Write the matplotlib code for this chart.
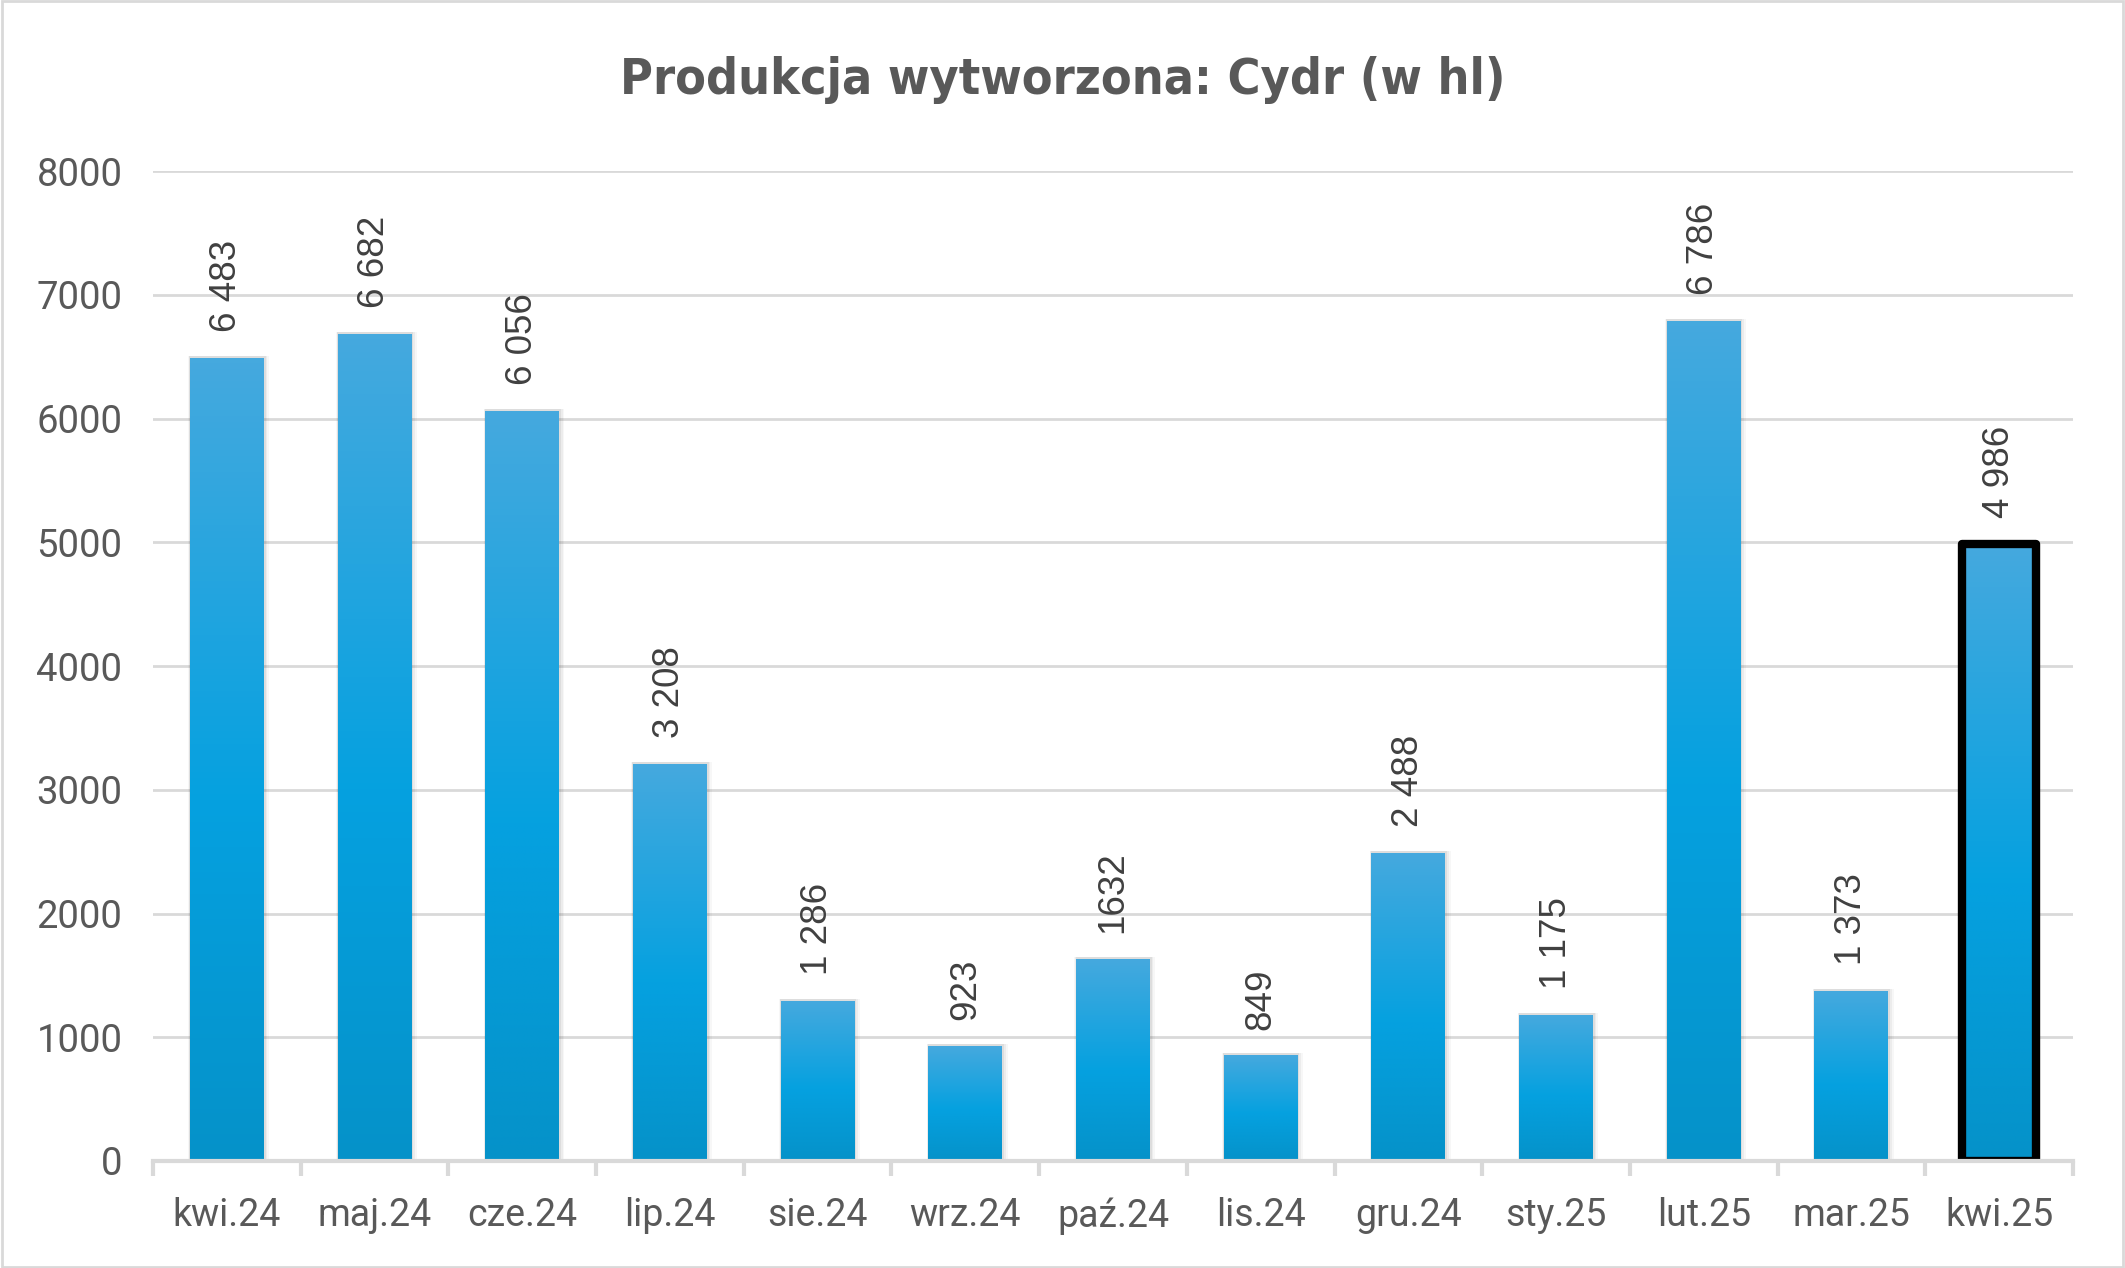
import matplotlib.pyplot as plt
import numpy as np
from matplotlib.colors import LinearSegmentedColormap
from matplotlib.patches import Rectangle
from matplotlib.transforms import ScaledTranslation

months = ["kwi.24", "maj.24", "cze.24", "lip.24", "sie.24", "wrz.24", "paź.24",
          "lis.24", "gru.24", "sty.25", "lut.25", "mar.25", "kwi.25"]
values = [6483, 6682, 6056, 3208, 1286, 923, 1632, 849, 2488, 1175, 6786, 1373, 4986]
value_labels = ["6 483", "6 682", "6 056", "3 208", "1 286", "923", "1632",
                "849", "2 488", "1 175", "6 786", "1 373", "4 986"]
yticks = [0, 1000, 2000, 3000, 4000, 5000, 6000, 7000, 8000]

grey_text = "#595959"
grid_col = "#D9D9D9"

fig = plt.figure(figsize=(21.25, 12.68), dpi=100)
ax = fig.add_axes([0.072, 0.0844, 0.9035, 0.7806])

# vertical gradient like the Excel fill
bar_cmap = LinearSegmentedColormap.from_list(
    "bar", [(0.0, "#0592C9"), (0.45, "#05A1E0"), (1.0, "#45A9DE")])
grad = np.linspace(0, 1, 256).reshape(-1, 1)

label_offset = ScaledTranslation(0, 19 / 72, fig.dpi_scale_trans)

x = np.arange(len(months))
width = 0.5
for i, v in enumerate(values):
    x0 = x[i] - width / 2
    # soft shadow
    for k, a in enumerate([0.06, 0.045, 0.03]):
        d = 0.012 * (k + 1)
        ax.add_patch(Rectangle((x0 - d * 0.3, 0), width + d * 1.3, v + 20,
                               facecolor="black", alpha=a, edgecolor="none", zorder=2))
    ax.imshow(grad, cmap=bar_cmap, origin="lower", aspect="auto",
              extent=[x0, x0 + width, 0, v], zorder=3, interpolation="bilinear")
    ax.text(x[i], v, value_labels[i], rotation=90, ha="center", va="bottom",
            fontsize=26.5, color="#404040", family="Liberation Sans",
            transform=ax.transData + label_offset, zorder=5)

# highlighted last bar
ax.add_patch(Rectangle((x[-1] - width / 2, 0), width, values[-1], facecolor="none",
                       edgecolor="black", linewidth=6, zorder=4, joinstyle="round"))

ax.set_xlim(-0.5, len(months) - 0.5)
ax.set_ylim(0, 8000)
ax.set_yticks(yticks)
ax.set_yticklabels([str(t) for t in yticks], fontsize=27.5, color=grey_text, family="Roboto")
ax.yaxis.grid(True, color=grid_col, linewidth=2)
ax.set_axisbelow(True)
ax.tick_params(axis="y", length=0, pad=22)

ax.set_xticks(x)
ax.set_xticklabels(months, fontsize=27, color=grey_text, family="Roboto")
ax.tick_params(axis="x", length=0, pad=26)
ax.set_xticks(np.arange(-0.5, len(months)), minor=True)
ax.tick_params(axis="x", which="minor", length=11, width=3, color=grid_col, direction="out")

for s in ["top", "right", "left"]:
    ax.spines[s].set_visible(False)
ax.spines["bottom"].set_color(grid_col)
ax.spines["bottom"].set_linewidth(3)
ax.spines["bottom"].set_zorder(6)

fig.text(0.5, 0.937, "Produkcja wytworzona: Cydr (w hl)", ha="center", va="center",
         fontsize=36, fontweight="bold", color=grey_text,
         family="DejaVu Sans", fontstretch="condensed")

fig.patches.append(Rectangle((0.001, 0.001), 0.998, 0.998, transform=fig.transFigure,
                             facecolor="none", edgecolor=grid_col, linewidth=2))

fig.savefig("out.png", dpi=100)
